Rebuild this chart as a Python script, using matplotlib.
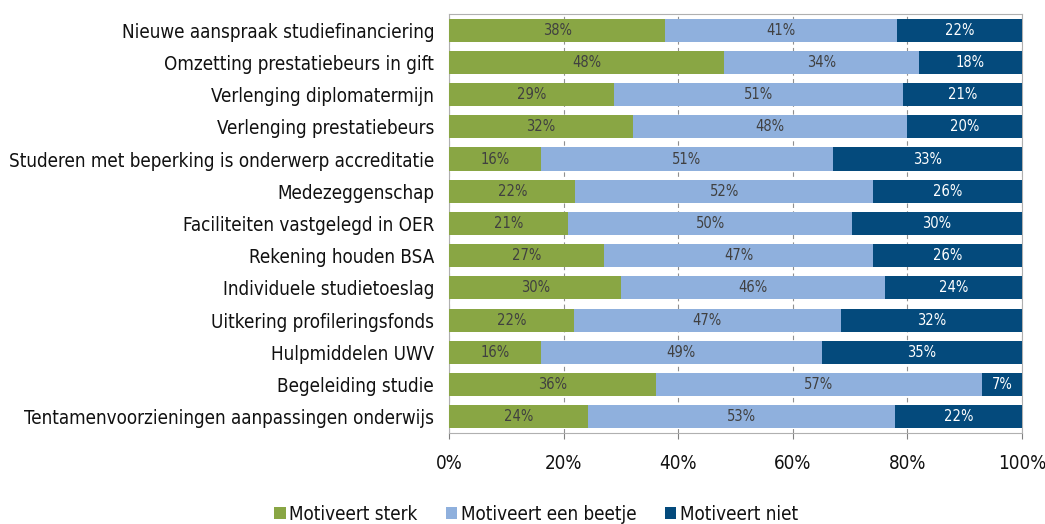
import numpy as np
import matplotlib.pyplot as plt

categories = [
    'Nieuwe aanspraak studiefinanciering',
    'Omzetting prestatiebeurs in gift',
    'Verlenging diplomatermijn',
    'Verlenging prestatiebeurs',
    'Studeren met beperking is onderwerp accreditatie',
    'Medezeggenschap',
    'Faciliteiten vastgelegd in OER',
    'Rekening houden BSA',
    'Individuele studietoeslag',
    'Uitkering profileringsfonds',
    'Hulpmiddelen UWV',
    'Begeleiding studie',
    'Tentamenvoorzieningen aanpassingen onderwijs',
]
sterk = [38, 48, 29, 32, 16, 22, 21, 27, 30, 22, 16, 36, 24]
beetje = [41, 34, 51, 48, 51, 52, 50, 47, 46, 47, 49, 57, 53]
niet = [22, 18, 21, 20, 33, 26, 30, 26, 24, 32, 35, 7, 22]
series_names = ['Motiveert sterk', 'Motiveert een beetje', 'Motiveert niet']
colors = ['#89A644', '#8FB0DD', '#044A7C']
text_colors = ['#404040', '#404040', 'white']

plt.rcParams['font.family'] = ['DejaVu Sans']
plt.rcParams['font.stretch'] = 'condensed'

vals = np.array([sterk, beetje, niet], dtype=float)
shares = vals / vals.sum(axis=0) * 100
y = np.arange(len(categories))

fig = plt.figure(figsize=(10.45, 5.24), dpi=100)
ax = fig.add_axes([0.43, 0.174, 0.548, 0.799])

left = np.zeros(len(categories))
for i in range(3):
    ax.barh(y, shares[i], left=left, height=0.72, color=colors[i],
            label=series_names[i], zorder=3)
    for j in range(len(categories)):
        ax.text(left[j] + shares[i][j] / 2, y[j], f'{int(vals[i][j])}%',
                ha='center', va='center', fontsize=10.5, color=text_colors[i],
                zorder=4)
    left += shares[i]

ax.set_xlim(0, 100)
ax.set_ylim(len(categories) - 0.5, -0.5)
ax.set_yticks(y)
ax.set_yticklabels(categories, fontsize=13.5, color='#111111')
ax.set_xticks([0, 20, 40, 60, 80, 100])
ax.set_xticklabels(['0%', '20%', '40%', '60%', '80%', '100%'], fontsize=13.5,
                   color='#111111')
ax.tick_params(axis='y', length=0, pad=11)
ax.tick_params(axis='x', length=4, color='#808080', pad=11)
ax.grid(axis='x', linestyle=(0, (4, 3)), color='#909090', linewidth=0.8, zorder=1)
for s in ['top', 'right', 'left', 'bottom']:
    ax.spines[s].set_color('#b0b0b0')
    ax.spines[s].set_linewidth(0.8)

leg = fig.legend(loc='lower center', bbox_to_anchor=(0.513, -0.032), ncol=3,
                 frameon=False, fontsize=13.5, handlelength=0.6, handleheight=0.6,
                 handletextpad=0.2, columnspacing=1.5)
for t in leg.get_texts():
    t.set_color('#111111')

fig.savefig('out.png', dpi=100)
